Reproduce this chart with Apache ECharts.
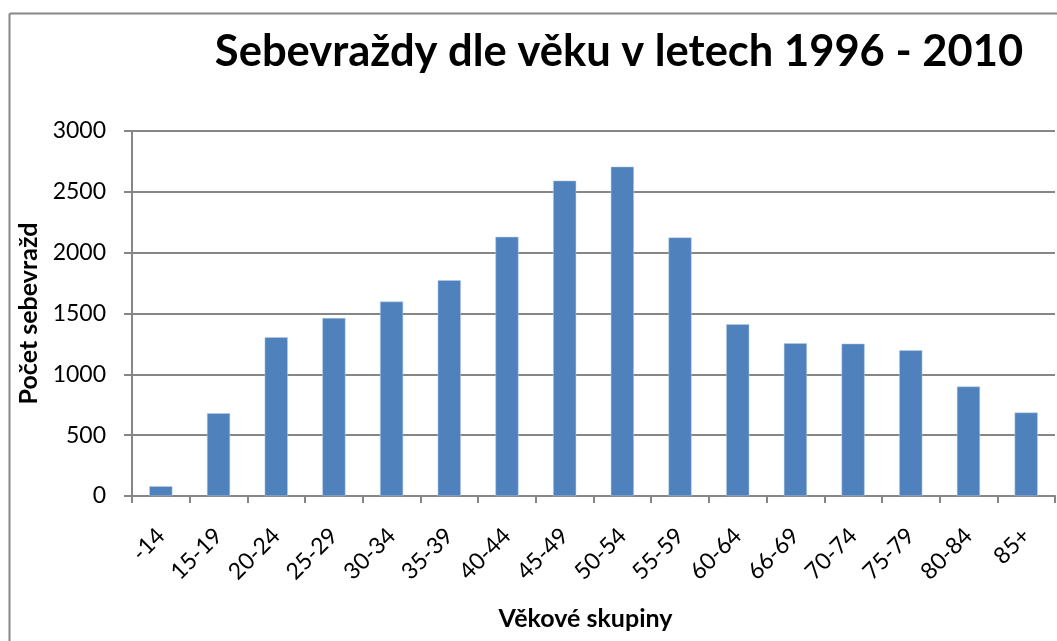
<!DOCTYPE html>
<html>
<head>
<meta charset="utf-8">
<title>Sebevraždy dle věku</title>
<script src="https://cdn.jsdelivr.net/npm/echarts@6/dist/echarts.min.js"></script>
<style>
  html, body { margin: 0; padding: 0; background: #fff; }
  #chart { width: 1057px; height: 641px; }
</style>
</head>
<body>
<div id="chart"></div>
<script>
// věkové skupiny
const categories = ['-14', '15-19', '20-24', '25-29', '30-34', '35-39', '40-44', '45-49',
  '50-54', '55-59', '60-64', '66-69', '70-74', '75-79', '80-84', '85+'];
// počet sebevražd
const values = [80, 680, 1305, 1463, 1598, 1773, 2130, 2592,
  2707, 2125, 1411, 1255, 1252, 1197, 900, 686];
const yTicks = [0, 500, 1000, 1500, 2000, 2500, 3000];

const font = 'Lato, "Noto Sans", sans-serif';
const grey = '#868686';

let myChart = echarts.init(document.getElementById('chart'));
let option = {
  animation: false,
  title: {
    text: 'Sebevraždy dle věku v letech 1996 - 2010',
    left: 614,
    textAlign: 'center',
    top: 25,
    textStyle: { fontFamily: font, fontWeight: 'bold', fontSize: 43.5, color: '#000' }
  },
  graphic: [ // rámeček grafu (jen levá a horní hrana jsou vidět)
    { type: 'line', shape: { x1: 9.5, y1: 13.5, x2: 1057, y2: 13.5 }, style: { stroke: grey, lineWidth: 2 } },
    { type: 'line', shape: { x1: 9.5, y1: 13.5, x2: 9.5, y2: 641 }, style: { stroke: grey, lineWidth: 2 } }
  ],
  grid: { left: 132, right: 2, top: 131, bottom: 145 },
  xAxis: {
    type: 'category',
    data: categories,
    name: 'Věkové skupiny',
    nameLocation: 'middle',
    nameGap: 110,
    nameTextStyle: { fontFamily: font, fontWeight: 'bold', fontSize: 25, color: '#000', padding: [0, 16, 0, 0] },
    axisLine: { lineStyle: { color: grey, width: 2 } },
    axisTick: { show: true, length: 7, lineStyle: { color: grey, width: 2 } },
    axisLabel: { rotate: 45, margin: 36, fontFamily: font, fontSize: 23, color: '#000' }
  },
  yAxis: {
    type: 'value',
    min: yTicks[0],
    max: yTicks[yTicks.length - 1],
    interval: 500,
    name: 'Počet sebevražd',
    nameLocation: 'middle',
    nameGap: 77,
    nameTextStyle: { fontFamily: font, fontWeight: 'bold', fontSize: 25, color: '#000' },
    axisLine: { show: true, lineStyle: { color: grey, width: 2 } },
    axisTick: { show: true, length: 8, lineStyle: { color: grey, width: 2 } },
    axisLabel: {
      margin: 26,
      fontFamily: font,
      fontSize: 23,
      color: '#000',
      formatter: function (v) { return String(v); }
    },
    splitLine: { lineStyle: { color: grey, width: 2 } }
  },
  series: [{
    type: 'bar',
    data: values,
    barWidth: '40%',
    itemStyle: { color: '#4F81BD', borderColor: '#b9cde5', borderWidth: 0.5 }
  }]
};
myChart.setOption(option);
</script>
</body>
</html>
